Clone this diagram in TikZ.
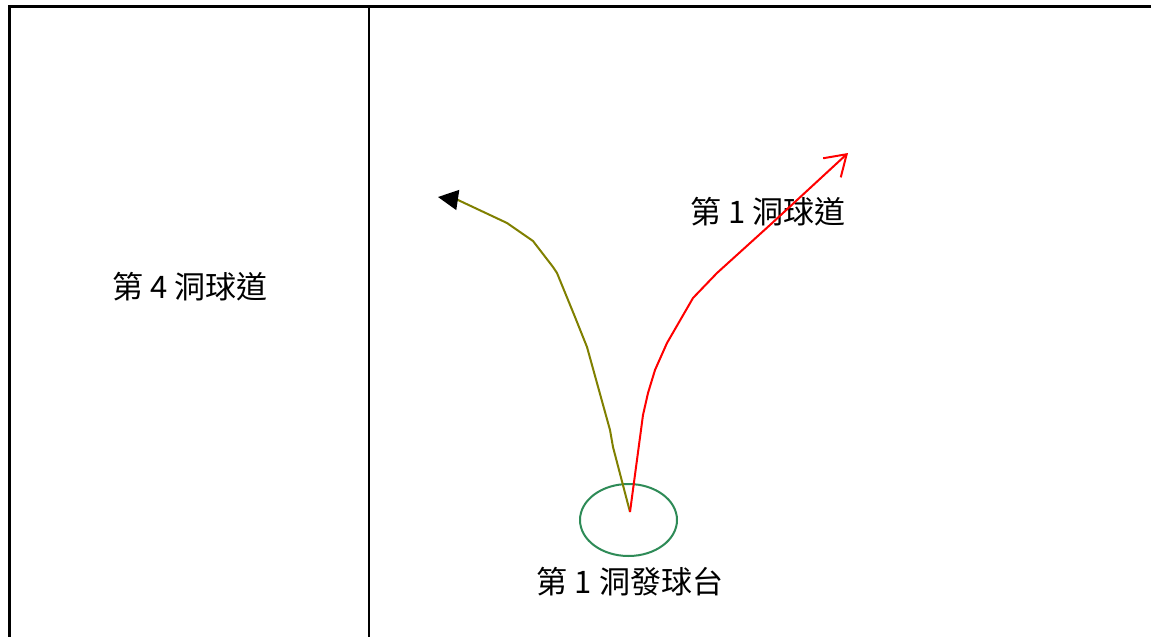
\documentclass[tikz,border=0pt]{standalone}
\usepackage{fontspec}
\setmainfont{Noto Sans CJK TC}
\usetikzlibrary{arrows.meta,shapes.geometric}
\definecolor{teegreen}{RGB}{46,139,87}
\definecolor{hookolive}{RGB}{128,128,0}
\tikzset{
  lbl/.style={inner sep=0pt, font=\fontsize{31}{36}\selectfont},
  shot/.style={line width=2pt}
}
\begin{document}
\begin{tikzpicture}[x=1pt,y=-1pt]
  \useasboundingbox (0,0) rectangle (1151,637);
  \fill[white] (0,0) rectangle (1151,637);
  \draw[line width=3pt] (9,637) -- (9,6) -- (1151,6);
  \draw[line width=2pt] (369,6) -- (369,637);
  \node[lbl] (hole4) at (190,287) {第 4 洞球道};
  \node[lbl] (hole1) at (768,212) {第 1 洞球道};
  \node[lbl] (teelbl) at (630,582) {第 1 洞發球台};
  \node[draw=teegreen, line width=2pt, ellipse, minimum width=97pt,
        minimum height=72pt, inner sep=0pt] (tee) at (628.5,520) {};
  \coordinate (ball) at (630,512);
  \coordinate (left) at (438,197);
  \coordinate (right) at (848,153);
  \draw[shot, hookolive, -{Triangle[length=20pt,width=20pt,black]}]
    (ball) -- (613,447) -- (610,430) -- (587,347) -- (575,317) -- (557,273)
    -- (553,267) -- (533,241) -- (507,223) -- (458,200) -- (left);
  \draw[shot, red, -{Straight Barb[length=20pt,width=26pt,line width=2pt]}]
    (ball) -- (643,415) -- (648,393) -- (655,370) -- (667,343) -- (693,298)
    -- (717,273) -- (770,225) -- (right);
\end{tikzpicture}
\end{document}
